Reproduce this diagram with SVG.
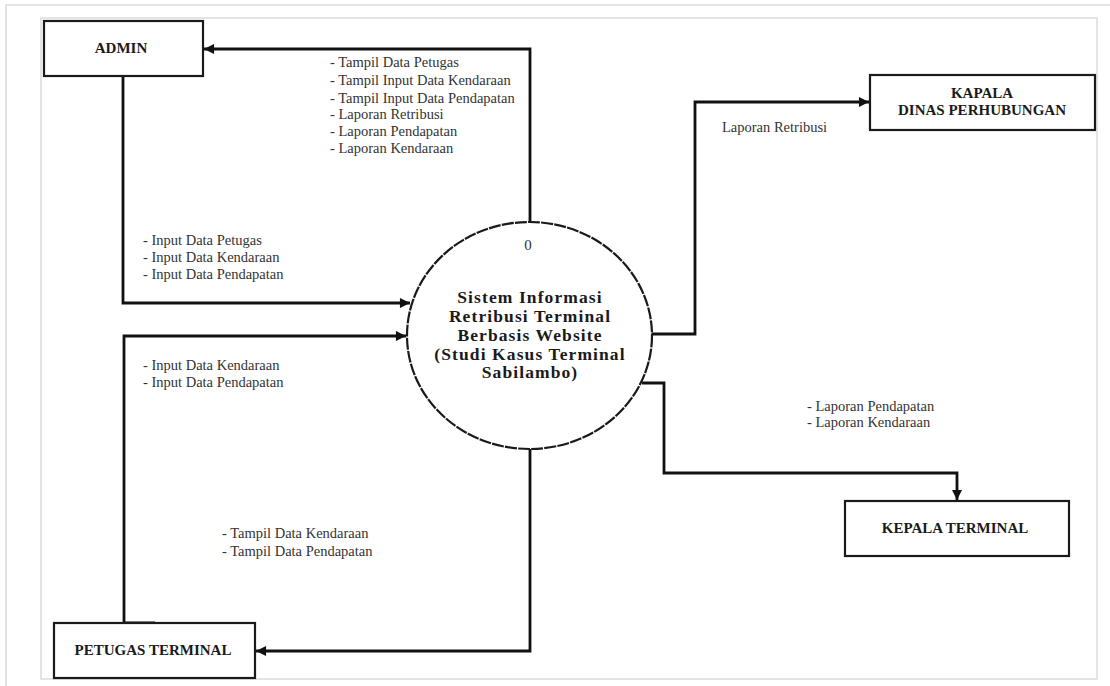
<svg xmlns="http://www.w3.org/2000/svg" width="1110" height="686" viewBox="0 0 1110 686">
  <style>
    .frame { fill: none; stroke: #dcdcdc; stroke-width: 1.5; }
    .box { fill: #fff; stroke: #1a1a1a; stroke-width: 2.2; }
    .ent { font-family: "Liberation Serif", "Times New Roman", serif; font-weight: bold; font-size: 15px; fill: #1a1a1a; text-anchor: middle; }
    .proc { font-family: "Liberation Serif", "Times New Roman", serif; font-weight: bold; font-size: 17.5px; letter-spacing: 1.1px; fill: #1a1a1a; text-anchor: middle; }
    .num { font-family: "Liberation Serif", "Times New Roman", serif; font-size: 15px; fill: #333; text-anchor: middle; }
    .lbl { font-family: "Liberation Serif", "Times New Roman", serif; font-size: 14.5px; fill: #333; }
    .flow { fill: none; stroke: #111; stroke-width: 2.8; marker-end: url(#arrow); }
  </style>
  <defs>
    <marker id="arrow" viewBox="0 0 10 10" refX="10" refY="5" markerWidth="4.2" markerHeight="3.6" orient="auto" markerUnits="strokeWidth">
      <path d="M0,0 L10,5 L0,10 Z" fill="#111"/>
    </marker>
  </defs>

  <rect width="1110" height="686" fill="#fff"/>
  <!-- page frames -->
  <path class="frame" d="M6,686 V5 H1110"/>
  <rect class="frame" x="41" y="18" width="1056" height="661"/>

  <!-- connectors -->
  <g id="connectors">
    <path class="flow" d="M530,222 V49 H204"/>
    <path class="flow" d="M123,76 V303 H410"/>
    <path class="flow" d="M155,623 H124 V336 H406"/>
    <path class="flow" d="M530,449 V651 H256"/>
    <path class="flow" d="M652,334 H695 V102 H869"/>
    <path class="flow" d="M642,383 H664 V473 H957 V500"/>
  </g>

  <!-- flow labels -->
  <g id="labels">
    <text class="lbl" x="330" y="67">- Tampil Data Petugas</text>
    <text class="lbl" x="330" y="85">- Tampil Input Data Kendaraan</text>
    <text class="lbl" x="330" y="103">- Tampil Input Data Pendapatan</text>
    <text class="lbl" x="330" y="119">- Laporan Retribusi</text>
    <text class="lbl" x="330" y="136">- Laporan Pendapatan</text>
    <text class="lbl" x="330" y="153">- Laporan Kendaraan</text>

    <text class="lbl" x="143" y="245">- Input Data Petugas</text>
    <text class="lbl" x="143" y="262">- Input Data Kendaraan</text>
    <text class="lbl" x="143" y="279">- Input Data Pendapatan</text>

    <text class="lbl" x="143" y="370">- Input Data Kendaraan</text>
    <text class="lbl" x="143" y="387">- Input Data Pendapatan</text>

    <text class="lbl" x="222" y="538">- Tampil Data Kendaraan</text>
    <text class="lbl" x="222" y="556">- Tampil Data Pendapatan</text>

    <text class="lbl" x="722" y="132">Laporan Retribusi</text>

    <text class="lbl" x="807" y="411">- Laporan Pendapatan</text>
    <text class="lbl" x="807" y="427">- Laporan Kendaraan</text>
  </g>

  <!-- process 0 -->
  <g id="process-0">
    <ellipse cx="529.5" cy="335.5" rx="122.5" ry="113.5" fill="#fff" stroke="#1a1a1a" stroke-width="2.2" stroke-dasharray="12 1.2"/>
    <text class="num" x="528" y="250">0</text>
    <text class="proc" x="530" y="303">Sistem Informasi</text>
    <text class="proc" x="530" y="322">Retribusi Terminal</text>
    <text class="proc" x="530" y="341">Berbasis Website</text>
    <text class="proc" x="530" y="360">(Studi Kasus Terminal</text>
    <text class="proc" x="530" y="378">Sabilambo)</text>
  </g>

  <!-- external entities -->
  <g id="admin">
    <rect class="box" x="44" y="21" width="159" height="55"/>
    <text class="ent" x="121" y="53">ADMIN</text>
  </g>
  <g id="petugas-terminal">
    <rect class="box" x="54" y="623" width="201" height="55"/>
    <text class="ent" x="153" y="655">PETUGAS TERMINAL</text>
  </g>
  <g id="kapala-dinas-perhubungan">
    <rect class="box" x="870" y="75" width="225" height="55"/>
    <text class="ent" x="982" y="98">KAPALA</text>
    <text class="ent" x="982" y="115">DINAS PERHUBUNGAN</text>
  </g>
  <g id="kepala-terminal">
    <rect class="box" x="845" y="501" width="224" height="55"/>
    <text class="ent" x="955" y="533">KEPALA TERMINAL</text>
  </g>
</svg>
